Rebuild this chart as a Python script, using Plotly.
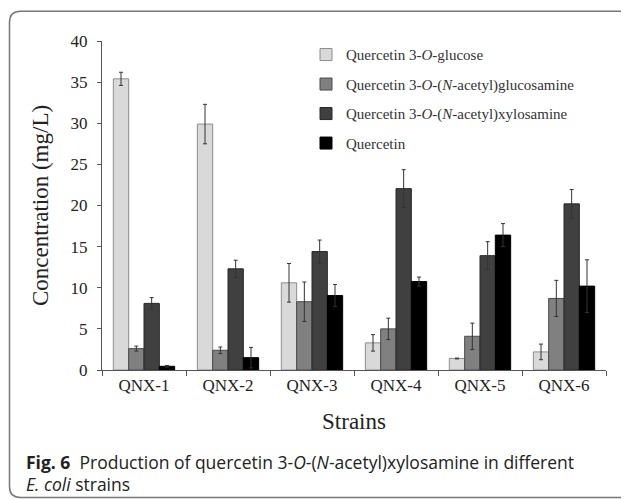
import plotly.graph_objects as go

strains = ["QNX-1", "QNX-2", "QNX-3", "QNX-4", "QNX-5", "QNX-6"]
series_names = [
    "Quercetin 3-<i>O</i>-glucose",
    "Quercetin 3-<i>O</i>-(<i>N</i>-acetyl)glucosamine",
    "Quercetin 3-<i>O</i>-(<i>N</i>-acetyl)xylosamine",
    "Quercetin",
]
glucose = [35.4, 29.9, 10.6, 3.3, 1.4, 2.2]
glucose_err = [0.8, 2.4, 2.35, 1.0, 0.05, 0.95]
glucosamine = [2.6, 2.4, 8.3, 5.0, 4.1, 8.7]
glucosamine_err = [0.3, 0.4, 2.4, 1.3, 1.6, 2.2]
xylosamine = [8.1, 12.3, 14.4, 22.05, 13.9, 20.2]
xylosamine_err = [0.7, 1.05, 1.4, 2.3, 1.7, 1.75]
quercetin = [0.45, 1.5, 9.05, 10.75, 16.4, 10.2]
quercetin_err = [0.1, 1.25, 1.35, 0.55, 1.4, 3.2]

values = [glucose, glucosamine, xylosamine, quercetin]
errors = [glucose_err, glucosamine_err, xylosamine_err, quercetin_err]
fills = ["#d9d9d9", "#808080", "#404040", "#000000"]
outlines = ["#8c8c8c", "#4a4a4a", "#262626", "#000000"]

# the page body adds an 8px margin; work in page pixels and subtract it
OFF = 8
W, H = 629 - OFF, 500 - OFF
PL, PR, PT, PB = 102, 606, 40.7, 370.3   # plot area in page pixels
L, R, T, B = PL - OFF, W - (PR - OFF), PT - OFF, H - (PB - OFF)
pw, ph = W - L - R, H - T - B

def px(x):
    return (x - OFF - L) / pw

def py(y):
    return (H - B - (y - OFF)) / ph

fig = go.Figure()
for i in range(4):
    fig.add_trace(go.Bar(
        x=strains, y=values[i], name=series_names[i],
        marker=dict(color=fills[i], line=dict(color=outlines[i], width=1)),
        error_y=dict(type="data", array=errors[i], visible=True,
                     color="#333333", thickness=1, width=2),
        legendgroup="g%d" % i,
    ))

serif = "Liberation Serif, Times New Roman, serif"
sans = "Open Sans, Noto Sans, sans-serif"

# rounded border (page pixels)
r = 11
x0, x1, y0, y1 = 9.5, 660, 11, 498
path = (f"M {px(x0)},{py(y0 + r)} Q {px(x0)},{py(y0)} {px(x0 + r)},{py(y0)} "
        f"L {px(x1)},{py(y0)} L {px(x1)},{py(y1)} "
        f"L {px(x0 + r)},{py(y1)} Q {px(x0)},{py(y1)} {px(x0)},{py(y1 - r)} Z")

fig.update_layout(
    width=W, height=H,
    margin=dict(l=L, r=R, t=T, b=B, autoexpand=False),
    paper_bgcolor="white", plot_bgcolor="white",
    barmode="group", bargap=0.27, bargroupgap=0,
    font=dict(family=serif, color="#222222"),
    showlegend=True,
    legend=dict(x=px(306), y=py(38), xanchor="left", yanchor="top",
                font=dict(family=serif, size=15, color="#333333"),
                tracegroupgap=7, bgcolor="rgba(0,0,0,0)"),
    xaxis=dict(
        showline=True, linecolor="#555555", linewidth=1,
        ticks="outside", tickson="boundaries", ticklen=5, tickcolor="#555555",
        tickfont=dict(family=serif, size=17, color="#222222"),
        title=dict(text="Strains", font=dict(family=serif, size=23, color="#222222"), standoff=18),
        showgrid=False, automargin=False,
    ),
    yaxis=dict(
        range=[0, 40], dtick=5,
        showline=True, linecolor="#555555", linewidth=1,
        ticks="outside", ticklen=4, tickcolor="#555555", ticklabelstandoff=6,
        tickfont=dict(family=serif, size=17, color="#222222"),
        title=dict(text="Concentration (mg/L)", font=dict(family=serif, size=23, color="#222222")),
        showgrid=False, zeroline=False, automargin=False,
    ),
    shapes=[dict(type="path", path=path, xref="paper", yref="paper",
                 line=dict(color="#777777", width=1.5), layer="below")],
    annotations=[
        dict(text="<b>Fig. 6</b>  Production of quercetin 3-<i>O</i>-(<i>N</i>-acetyl)xylosamine in different",
             xref="paper", yref="paper", x=px(24), y=py(462), xanchor="left", yanchor="middle",
             showarrow=False, font=dict(family=sans, size=17.5, color="#222222")),
        dict(text="<i>E. coli</i> strains",
             xref="paper", yref="paper", x=px(24), y=py(485), xanchor="left", yanchor="middle",
             showarrow=False, font=dict(family=sans, size=17.5, color="#222222")),
    ],
)

fig.write_html("out.html")
